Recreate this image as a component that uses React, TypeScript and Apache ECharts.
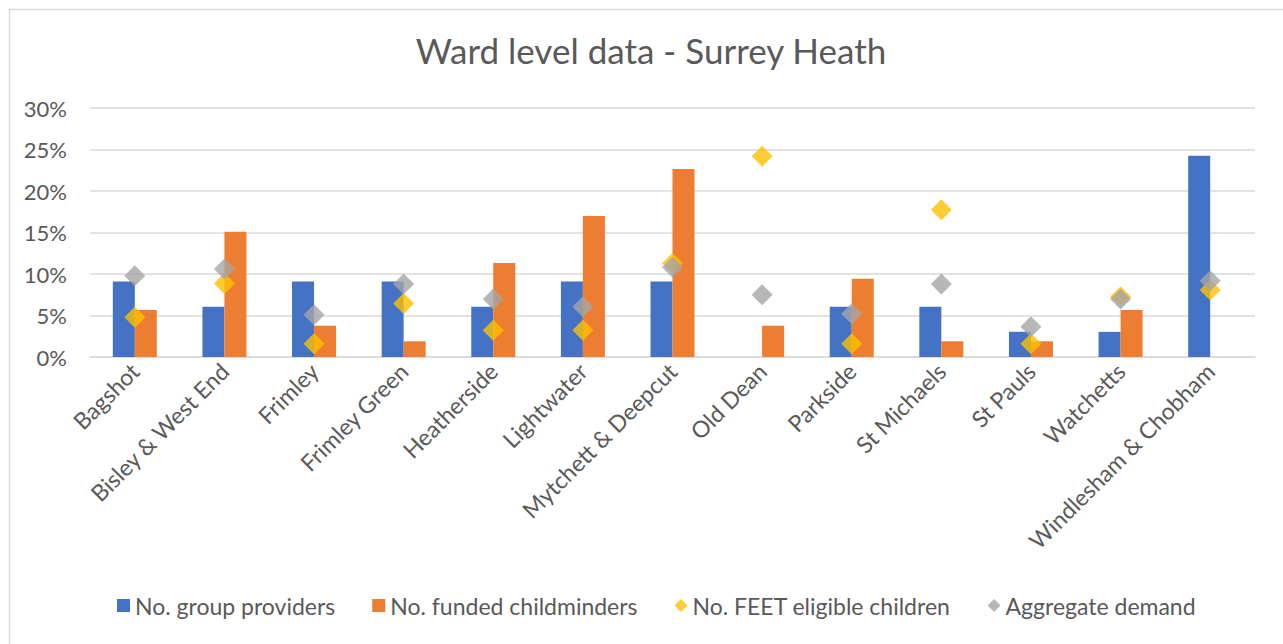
import React, { useEffect, useRef } from "react";
import * as echarts from "echarts";

const categories = [
  "Bagshot",
  "Bisley & West End",
  "Frimley",
  "Frimley Green",
  "Heatherside",
  "Lightwater",
  "Mytchett & Deepcut",
  "Old Dean",
  "Parkside",
  "St Michaels",
  "St Pauls",
  "Watchetts",
  "Windlesham & Chobham",
];

const groupProviders = [9.09, 6.06, 9.09, 9.09, 6.06, 9.09, 9.09, 0, 6.06, 6.06, 3.03, 3.03, 24.24];
const fundedChildminders = [5.66, 15.09, 3.77, 1.89, 11.32, 16.98, 22.64, 3.77, 9.43, 1.89, 1.89, 5.66, 0];
const feetEligible = [4.8, 8.87, 1.61, 6.45, 3.23, 3.23, 11.29, 24.19, 1.61, 17.74, 1.61, 7.26, 8.06];
const aggregateDemand = [9.8, 10.6, 5.1, 8.8, 7.0, 6.06, 10.8, 7.5, 5.2, 8.8, 3.65, 7.0, 9.2];

const seriesNames = [
  "No. group providers",
  "No. funded childminders",
  "No. FEET eligible children",
  "Aggregate demand",
];

const FONT = "Lato";
const TEXT = "#595959";

export default function App() {
  const ref = useRef<HTMLDivElement>(null);
  useEffect(() => {
    if (!ref.current) return;
    const chart = echarts.init(ref.current, undefined, { renderer: "svg" });
    chart.setOption({
      animation: false,
      backgroundColor: "#ffffff",
      textStyle: { fontFamily: FONT },
      title: {
        text: "Ward level data - Surrey Heath",
        left: 646,
        top: 27,
        textAlign: "center",
        textStyle: { fontFamily: FONT, fontSize: 35, fontWeight: "normal", color: TEXT },
      },
      graphic: [
        {
          type: "rect",
          left: 7,
          top: 7,
          shape: { width: 1300, height: 660 },
          style: { fill: "none", stroke: "#d9d9d9", lineWidth: 1.5 },
          silent: true,
          z: -10,
        },
      ],
      legend: {
        bottom: 22,
        left: 112,
        itemGap: 37,
        itemWidth: 13,
        itemHeight: 13,
        textStyle: { fontFamily: FONT, fontSize: 23, color: TEXT },
        data: [
          { name: seriesNames[0], icon: "rect" },
          { name: seriesNames[1], icon: "rect" },
          { name: seriesNames[2], icon: "diamond" },
          { name: seriesNames[3], icon: "diamond" },
        ],
      },
      grid: { left: 90, right: 28, top: 108, bottom: 287, containLabel: false },
      xAxis: {
        type: "category",
        data: categories,
        axisLine: { lineStyle: { color: "#d9d9d9", width: 1.5 } },
        axisTick: { show: false },
        axisLabel: {
          rotate: 45,
          interval: 0,
          margin: 10,
          fontFamily: FONT,
          fontSize: 23,
          color: TEXT,
        },
      },
      yAxis: {
        type: "value",
        min: 0,
        max: 30,
        interval: 5,
        axisLine: { show: false },
        axisTick: { show: false },
        splitLine: { lineStyle: { color: "#d9d9d9", width: 1.5 } },
        axisLabel: {
          formatter: "{value}%",
          margin: 23,
          fontFamily: FONT,
          fontSize: 22,
          color: TEXT,
        },
      },
      series: [
        {
          name: seriesNames[0],
          type: "bar",
          data: groupProviders,
          barWidth: 22,
          barGap: "0%",
          itemStyle: { color: "#4472C4" },
        },
        {
          name: seriesNames[1],
          type: "bar",
          data: fundedChildminders,
          barWidth: 22,
          barGap: "0%",
          itemStyle: { color: "#ED7D31" },
        },
        {
          name: seriesNames[2],
          type: "scatter",
          data: feetEligible,
          symbol: "diamond",
          symbolSize: 21,
          itemStyle: { color: "#FFC000" },
          z: 5,
        },
        {
          name: seriesNames[3],
          type: "scatter",
          data: aggregateDemand,
          symbol: "diamond",
          symbolSize: 21,
          itemStyle: { color: "#A5A5A5" },
          z: 6,
        },
      ],
    });
    return () => chart.dispose();
  }, []);
  return (
    <div
      ref={ref}
      style={{ position: "fixed", left: 0, top: 0, width: 1283, height: 644 }}
    />
  );
}
